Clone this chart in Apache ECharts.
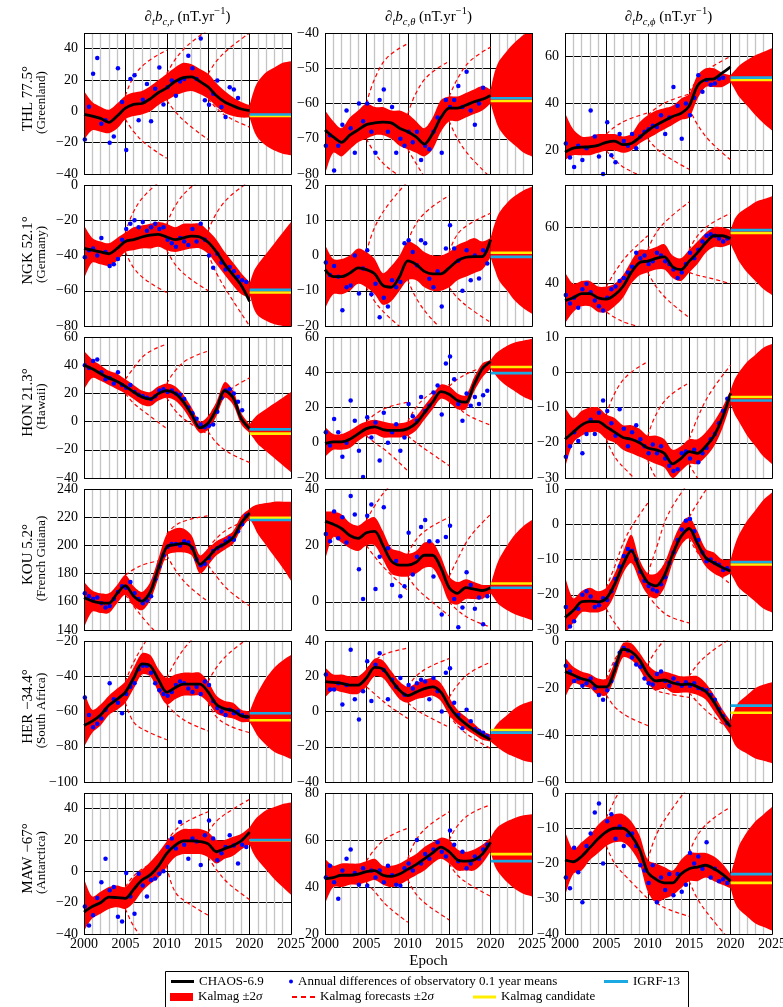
<!DOCTYPE html>
<html><head><meta charset="utf-8">
<script src="https://cdn.jsdelivr.net/npm/echarts@6/dist/echarts.min.js"></script>
<style>html,body{margin:0;padding:0;background:#fff}#c{width:783px;height:1007px}</style>
</head><body><div id="c"></div>
<script>
// ---------- shared sampling epochs ----------
const years = [2000,2001,2002,2003,2004,2005,2006,2007,2008,2009,2010,2011,2012,2013,2014,2015,2016,2017,2018,2019,2020];
const coneYears = [2020,2020.5,2021,2022,2023,2024,2025];
const obsYears = [2000.1,2000.6,2001.1,2001.6,2002.1,2002.6,2003.1,2003.6,2004.1,2004.6,2005.1,2005.6,2006.1,2006.6,2007.1,2007.6,2008.1,2008.6,2009.1,2009.6,2010.1,2010.6,2011.1,2011.6,2012.1,2012.6,2013.1,2013.6,2014.1,2014.6,2015.1,2015.6,2016.1,2016.6,2017.1,2017.6,2018.1,2018.6,2019.1,2019.6];
const fcYears = [[2005,2006,2007.5,2010],[2010,2011,2012.5,2015],[2015,2016,2017.5,2020]];
const xTicks = [2000,2005,2010,2015,2020,2025];

// ---------- THL ----------
const thl_r_chaos = [-2,-3,-4.5,-7,-3,2,4.5,5,8,12,15,19,21.5,22,19,15.5,10,6,3.5,1.5,0.5];
const thl_r_lo = [-18,-12,-13,-14,-11,-5,-3,-2,0,4,7,10,12,13,11,8,3,-1,-3,-4,-4];
const thl_r_hi = [13,6,3,1,5,10,12,13,16,20,24,28,31,30,27,24,18,13,9,6,4];
const thl_r_cone = [[-4,-12,-17,-22,-25,-27,-28],[4,13,19,25,28,31,32]];
const thl_r_obs = [-18,3,24,34,-8,-5.7,-20,-16,27.5,6,-24.7,20.7,23,-5.7,7.4,17.5,-6.3,14.4,28,4.4,15.4,19.7,10,19,20.7,35.5,27.5,20.7,46.5,7,4.2,11.2,19.7,2.7,-3.6,15.4,14,8.5,null,null];
const thl_r_fc = [[10,22,31,39],[-5,-13,-21,-30],[24,33,42,52],[7,0,-8,-18],[24,32,40,50],[8,2,-4,-10]];
const thl_r_ref = [-2,-3];

const thl_t_chaos = [-67.5,-69.5,-71,-69,-67.5,-66,-65.5,-65.3,-65.5,-67,-68,-69.5,-71.5,-68.5,-64,-61.3,-61.3,-60.5,-59.5,-58.8,-57.7];
const thl_t_lo = [-80,-74,-75,-73,-71,-70,-69,-69,-70,-72,-73,-74,-75,-73,-68,-65,-65,-64,-63,-62,-60];
const thl_t_hi = [-62,-65,-67,-64,-62,-60,-61,-61,-62,-62,-63,-65,-67,-64,-59,-58,-58,-57,-56,-55,-56];
const thl_t_cone = [[-60,-64,-67,-70,-72,-74,-75],[-56,-51,-48,-45,-42.5,-40.5,-39]];
const thl_t_obs = [-72,-69,-79,-72,-66,-62,-67,-74,-60,-65,-60,-68,-74,-59,-56,-68,-61,-74,-70,-72,-68,-71,-68,-76,-72,-73,-68,-64,-74,-59,-61,-59,-55,-61,-51,-62,-66,-60,-55.5,null];
const thl_t_fc = [[-60,-53,-47,-43],[-70,-74,-78,-82],[-63,-57,-52,-48],[-73,-77,-82,-86],[-58,-53,-48,-44],[-65,-70,-75,-81]];
const thl_t_ref = [-58.5,-59.3];

const thl_p_chaos = [19.3,21,21.4,21.6,22.2,23.5,24,22.5,23,25.5,28.5,30.8,32.7,34.5,35.8,39,47.5,50.2,50.5,53,55.6];
const thl_p_lo = [16,18,18,18,19,20,20,19,20,23,25,27,29,31,33,34,42,47,47,47,49];
const thl_p_hi = [36,29,26,26,27,27,27,26,27,32,35,37,38,39,42,44,52,55,55,53,52];
const thl_p_cone = [[49,46,43,39,35,31.5,28.5],[52,54,56,58.5,60.5,62,63.5]];
const thl_p_obs = [23,17,13,22,16,21,37,26,17.5,10,32,18,15,27,24,22,27,21,26,28,29,30.5,30,35,27,34,47,39,25,40,35,42.5,52,45,50,48,48.5,50.5,51,null];
const thl_p_fc = [[27,30,33,36],[20,16,12,8],[35,38,41,44],[25,21,17,12],[45,50,55,60],[38,31,24,16]];
const thl_p_ref = [51,50];

// ---------- NGK ----------
const ngk_r_chaos = [-36,-37,-38,-39,-36,-32,-31,-29.5,-28.5,-28,-29.5,-31,-30,-29,-29.5,-32.5,-38,-45,-51,-57,-66];
const ngk_r_lo = [-53,-44,-45,-46,-43,-38,-37,-36,-36,-35,-37,-38,-37,-36,-36,-39,-45,-51,-57,-62,-64];
const ngk_r_hi = [-23,-30,-32,-33,-30,-27,-24,-23,-22,-21,-22,-24,-22,-22,-22,-26,-31,-38,-44,-50,-55];
const ngk_r_cone = [[-62,-70,-74,-77,-79,-80,-81],[-56,-49,-45,-39,-33,-27,-21]];
const ngk_r_obs = [-41,-37,-36,-40,-30,-38,-46,-45,-42,-31,-25,-22,-20,-24,-21,-26,-24,-22,-25,-24,-31,-33,-35,-30,-32,-34,-25,-32,-22,-31,-40,-47,-39,-44,-48,-46.5,-49,-52,-54,-55];
const ngk_r_fc = [[-27,-15,-5,5],[-38,-47,-54,-61],[-22,-12,-3,6],[-37,-45,-52,-60],[-26,-16,-7,2],[-39,-50,-62,-80]];
const ngk_r_ref = [-59.5,-61];

const ngk_t_chaos = [-4,-6,-6,-5,-3.5,-4,-5.2,-8.5,-9,-6,-1.5,-2.5,-4.5,-5.2,-5.2,-3.5,-1.5,-0.5,-0.3,-0.3,4.5];
const ngk_t_lo = [-15,-11,-11,-10,-8,-9,-11,-14,-13,-10,-7,-7,-9,-10,-10,-9,-7,-6,-5,-4,-0.5];
const ngk_t_hi = [3,-1,-1,0,2,1,-1,-5,-3,0,4,3,1,0,0,1,3,4,5,4,5];
const ngk_t_cone = [[-0.5,-4,-7,-10,-13,-15,-16.5],[5,9,12,15,17,18.5,19.5]];
const ngk_t_obs = [-2,-5.5,-3,-6,-15.5,-9,-8.5,0,-10.8,-3.7,1.5,-11,-8,-17.5,-12,-14.5,-7,-9,-7.5,3.5,4.3,1,-2.8,4.3,3.5,-6.6,-9,-4.5,-14.5,2,8.6,2,-1.5,-10,1.5,-7,0,-6.5,1.5,-2.3];
const ngk_t_fc = [[1,8,14,21],[-9,-13,-17,-22],[4,9,13,17],[-7,-12,-17,-23],[1,6,9,12],[-9,-12,-15,-19]];
const ngk_t_ref = [-0.4,0.8];

const ngk_p_chaos = [34,35,36.5,36.5,35,34.5,36,39,44,47.5,48,49,49.5,46,45,48,51,54.5,57,57,56];
const ngk_p_lo = [26,30,32,32,30,30,32,35,40,43,44,45,45,42,41,44,47,51,53,53,54];
const ngk_p_hi = [44,40,41,41,39,39,40,43,48,52,52,53,54,50,49,52,55,58,60,60,59];
const ngk_p_cone = [[54,51,48,44,41,38,36],[59,63,65,67,69,70,71]];
const ngk_p_obs = [36,33,35,31.5,38,40,37,34,32,30.5,35,38,39,41,42,44,46,51,49,50,47,48,51,50,48,47,45,42,44,47,51,49,52,55,57,57.5,57,56,55,56];
const ngk_p_fc = [[39,44,50,57],[30,28,26,24],[52,58,63,69],[44,39,34,28],[52,57,61,65],[44,43,42,40]];
const ngk_p_ref = [59,58];

// ---------- HON ----------
const hon_r_chaos = [40,37.5,34,31,28.5,25,21,17.5,16,20,22,20,14,5,-4.5,-1,9,22,17,2,-5];
const hon_r_lo = [23,31,29,26,23,20,16,12,11,15,17,15,9,0,-8,-6,4,17,12,-2,-8];
const hon_r_hi = [50,44,40,36,34,30,26,22,21,25,27,25,19,10,0,4,14,28,22,6,-2];
const hon_r_cone = [[-8,-12,-16,-21,-26,-31,-36],[-2,2,5,9,13,17,21]];
const hon_r_obs = [40,38,43,44,35,30,31,27,35,26,24,26,21,19,18,17,16,18,22,23,21,22,20,19,16,10,6,2,-2,-4,-3,-2,7,17,22,23,20,14,8,null];
const hon_r_fc = [[30,38,48,55],[20,13,6,-5],[27,36,44,50],[17,8,0,-9],[3,12,22,31],[-7,-15,-22,-29]];
const hon_r_ref = [-5.5,-8.5];

const hon_t_chaos = [-0.5,0.5,0.5,2,5,8,9,7.5,7,7,8,11,17,23,29,27.5,24,23,33,42,46];
const hon_t_lo = [-8,-4,-4,-3,1,4,5,3,3,3,4,7,13,19,25,23,19,19,29,37,42];
const hon_t_hi = [9,5,5,7,10,12,13,12,11,11,12,15,21,27,33,32,28,27,37,45,47];
const hon_t_cone = [[42,39,36,32,29,26,24],[47,50,52,55,57,58,59]];
const hon_t_obs = [6,-1.5,13.5,6,-8,0,24,12.5,-4.5,-19.5,14.5,3,11.5,-10,17,0,6,10.5,-4.5,3,22,15,12.5,26,18,21,28.5,32.5,16,45,49,36,22,12.5,28,21,26,22,27,29.5];
const hon_t_fc = [[12,16,20,23],[4,0,-5,-16],[12,20,27,33],[4,0,-5,-13],[32,36,40,44],[23,20,15,10]];
const hon_t_ref = [39.5,43];

const hon_p_chaos = [-19,-17,-15,-14,-14,-15.5,-17,-18.5,-19,-20,-21.5,-22,-23,-26,-24.5,-22.5,-23,-21,-18,-13,-6];
const hon_p_lo = [-27,-20,-18,-17,-17,-19,-20,-22,-23,-24,-25,-26,-27,-30,-28,-26,-26,-24,-21,-16,-9];
const hon_p_hi = [-10,-13,-11,-10,-10,-12,-13,-15,-15,-16,-18,-18,-19,-22,-21,-19,-19,-17,-14,-10,-5];
const hon_p_cone = [[-9,-12,-14,-18,-21,-24,-26],[-5,-2,0,3,5,7,8]];
const hon_p_obs = [-24,-21,-17,-19.5,-23,-17.5,-13.5,-17.5,-11.5,-8,-11,-14.5,-18,-10.5,-16,-21,-17,-15,-19,-21,-23,-20.5,-23,-21,-24.5,-26.5,-28,-27.5,-23,-22.5,-24.5,-22,-25.5,-23,-21.5,-19,-17.5,-14.5,-11,-7.5];
const hon_p_fc = [[-12,-6,-1,3],[-19,-24,-28,-34],[-18,-12,-7,-3],[-25,-30,-34,-38],[-19,-13,-6,2],[-26,-30,-34,-38]];
const hon_p_ref = [-8,-7];

// ---------- KOU ----------
const kou_r_chaos = [163,160.5,159.3,159,166,171.5,164,160.5,167,184,199,200.5,201.5,199,186.6,191.5,198,201,205.5,216,223];
const kou_r_lo = [142,153,152,152,159,165,157,154,161,177,193,195,195,193,180,186,193,197,201,212,219];
const kou_r_hi = [174,168,166,166,172,179,171,167,174,191,208,212,212,207,193,198,203,206,210,221,226];
const kou_r_cone = [[219,214,208,200,192,184,175],[226,228,229,230,231,231,231]];
const kou_r_obs = [166,164,162,163,159,156,157,162,167,171,170,174,166,162,159,161,164,176,185,193,199,201,201,200,203,202,198,190,186,187,191,196,198,200,203,205,204,210,215,221];
const kou_r_fc = [[179,183,187,190],[165,157,146,130],[208,214,218,221],[193,183,172,160],[198,205,212,218],[186,178,168,157]];
const kou_r_ref = [218,219.5];

const kou_t_chaos = [28.5,27.5,26,23.5,22.5,24.5,25,20,14.5,13,13,14,16.5,16.5,12,5,3,5,4.5,4,5];
const kou_t_lo = [15,23,21,19,18,20,20,15,10,9,9,10,12,12,7,0,-1,1,1,1,3];
const kou_t_hi = [32,32,31,28,27,29,30,25,19,18,17,18,21,21,16,9,7,8,7,6,6];
const kou_t_cone = [[3,1,-1,-3,-4.5,-5.5,-6.5],[6,11,15,20,24,27,29]];
const kou_t_obs = [24,21.5,32,22.5,30,21,37.5,31,11.5,1,30.5,34.5,4.5,16,33.5,19,6,14.5,2,5.5,24.5,9.7,16,26.5,29,21.5,9,21.5,-4.5,23,27,1,-9,-2,10.5,6,-2.5,1.5,-8,2];
const kou_t_fc = [[29,34,40,46],[20,16,11,4],[17,22,26,30],[9,5,1,-5],[9,15,23,31],[0,-3,-6,-9]];
const kou_t_ref = [5,6.5];

const kou_p_chaos = [-26.5,-24.5,-22,-21.8,-22,-21,-17,-11.5,-7.5,-12.5,-16.5,-17.5,-14.5,-8.5,-3.5,-1.2,-5.5,-9.5,-11,-12.3,-13.3];
const kou_p_lo = [-31,-28,-25,-25,-25,-24,-20,-14,-11,-16,-20,-21,-18,-11,-6,-4,-8,-12,-14,-15,-14];
const kou_p_hi = [-15,-21,-19,-18,-19,-18,-14,-8,-3,-10,-14,-14,-11,-5,0,2,-2,-7,-8,-10,-10];
const kou_p_cone = [[-14,-16,-18,-20,-22,-24,-25],[-10,-6,-3,1,4,7,9]];
const kou_p_obs = [-23.5,-29,-27.5,-24,-20,-19,-20.5,-23.5,-23,-21,-21.5,-19,-15.5,-12,-9,-7,-7.5,-10,-13.5,-16,-17.5,-18.5,-19,-17,-15,-11,-8,-4.5,-1.5,1,1.5,-2,-4.5,-8,-10.5,-10,-11,-11.5,-13,-12.5];
const kou_p_fc = [[-18,-12,-3,6],[-24,-28,-32,-36],[-14,-7,3,12],[-20,-23,-26,-28],[2,6,11,16],[-4,-8,-12,-17]];
const kou_p_ref = [-10.7,-11.4];

// ---------- HER ----------
const her_r_chaos = [-68,-65.5,-62,-56.5,-53,-49,-41,-33,-34,-42,-49,-46.5,-44.5,-44.5,-44.5,-49,-56,-58.5,-59.5,-62.5,-63];
const her_r_lo = [-80,-72,-68,-62,-59,-55,-47,-39,-40,-49,-56,-53,-51,-51,-51,-55,-61,-63,-64,-66,-66];
const her_r_hi = [-49,-59,-56,-51,-47,-43,-35,-27,-28,-36,-41,-39,-38,-38,-38,-43,-51,-54,-55,-59,-60];
const her_r_cone = [[-66,-70,-74,-79,-83,-85,-87],[-60,-54,-49,-41,-35,-31,-28]];
const her_r_obs = [-52,-62,-69,-67,-64,-59,-44,-53,-55,-61,-50,-46,-44,-36,-34,-34,-38,-44,-48,-50,-51,-49,-45,-43,-44,-47,-49,-46,-50,-43,-45,-54,-58,-60,-62,-59,-61,-60,-62,-63];
const her_r_fc = [[-43,-32,-20,-5],[-55,-66,-71,-76],[-41,-32,-22,-10],[-56,-61,-66,-71],[-43,-35,-27,-18],[-55,-63,-68,-72]];
const her_r_ref = [-61,-65];

const her_t_chaos = [17,16.5,16,15,15,19,25,24,18,12,9,11,13,14,11,3,-3,-7,-10.5,-13.5,-16];
const her_t_lo = [8,12,11,10,10,14,20,19,13,7,5,7,8,9,6,-2,-7,-10,-13,-16,-17];
const her_t_hi = [25,21,21,20,20,24,30,29,23,17,14,16,18,19,16,8,1,-3,-7,-11,-13];
const her_t_cone = [[-17,-19,-21,-24,-26,-28,-29],[-13,-9,-6,-2,2,4.5,6]];
const her_t_obs = [21,12.5,12.5,16,4,15,35,7,-4.5,11.5,28.5,6,26.5,33,23.5,7,18,14,19,9.5,15,13,16,18,17,7,19,11.5,0,22,24.5,5,-2,-9.5,1,-5.5,-10,-11,-12,-14];
const her_t_fc = [[24,29,33,36],[14,10,4,-4],[14,20,25,30],[5,1,-3,-9],[8,15,22,28],[-2,-8,-14,-21]];
const her_t_ref = [-12,-10.5];

const her_p_chaos = [-13,-14.5,-16,-17,-19.5,-19.5,-12.5,-3.5,-4.5,-8,-14,-17,-16.6,-17.8,-18.6,-18.3,-19.5,-21.5,-26,-32,-36.5];
const her_p_lo = [-24,-18,-19,-20,-23,-23,-16,-7,-8,-12,-18,-21,-20,-22,-22,-22,-23,-25,-30,-35,-40];
const her_p_hi = [-7,-11,-13,-14,-16,-16,-9,-1,-1,-5,-10,-13,-13,-14,-15,-15,-15,-18,-23,-29,-34];
const her_p_cone = [[-40,-44,-46,-48,-50,-51,-52],[-34,-29,-26,-23,-20,-18.5,-17.5]];
const her_p_obs = [-10.5,-13,-17,-16,-19,-18,-16,-20,-23,-25,-21,-17,-10,-5,-3,-4,-7,-10,-11,-16,-18,-18.5,-14,-13,-17,-19,-16,-18,-19,-17.5,-19,-18,-20,-20.5,-21,-23,-25,-29,-32,-35];
const her_p_fc = [[-16,-8,0,8],[-23,-28,-32,-36],[-10,-4,2,8],[-18,-21,-22.5,-24],[-15,-10,-5,1],[-22,-26,-31,-38]];
const her_p_ref = [-27.5,-30.5];

// ---------- MAW ----------
const maw_r_chaos = [-26,-22.5,-20,-16.5,-16.8,-17.2,-11.5,-5.5,-2.3,3.5,11.5,16.5,19.5,19.5,19,17.5,12.5,14.5,16.5,19.5,25];
const maw_r_lo = [-38,-30,-27,-24,-23,-24,-20,-13,-8,-4,3,9,11,11,11,9,5,8,10,14,17];
const maw_r_hi = [-5,-16,-13,-10,-9,-10,-4,1,6,12,19,24,27,27,27,25,20,20,22,24,28];
const maw_r_cone = [[17,11,7,1,-5,-10,-15],[28,32,35,39,41,43,44]];
const maw_r_obs = [-22.5,-34.5,-28,-17,-7,8,-12,-10,-29,-32,-1,-16,-27,-1.5,-9,-16,-5.5,-4.5,-1.5,0,15.5,21,14.5,31.5,17,8,21,19,4,23,32.5,21,7,11.5,15.5,23,16.5,5,17,15.5];
const maw_r_fc = [[-10,-3,3,10],[-24,-35,-45,-55],[19,26,32,38],[3,-13,-20,-28],[25,32,38,46],[9,1,-8,-18]];
const maw_r_ref = [20,19.8];

const maw_t_chaos = [43.5,44,45,45,45.5,46.5,47,45,44.5,45.5,47.5,49.5,52,54.5,57,55,51.5,51,51.5,54,59];
const maw_t_lo = [33,40,40,41,41,42,43,41,40,41,43,45,47,50,52,50,47,47,47,50,55];
const maw_t_hi = [52,49,50,50,50,51,52,49,49,50,52,54,57,59,61,60,56,55,56,58,61];
const maw_t_cone = [[55,49,46,42,39,37,36],[61,64,66,68,69.5,70.5,71]];
const maw_t_obs = [44,49,42,35,47,52,56,46,41,48,40.5,47,44,47,42,49,45,41,40.5,48,50,47,60,50,54,52,56,59,55,53,64,58,51,55,48,50,53,52,56,58];
const maw_t_fc = [[51,56,61,65],[42,38,32,25],[52,60,66,72],[43,37,32,26],[60,66,71,75],[50,45,41,36]];
const maw_t_ref = [51,54];

const maw_p_chaos = [-19,-19.5,-18,-15.5,-13,-11,-10,-10,-12,-16,-22.5,-24.5,-25.5,-25.5,-23,-21.5,-21,-20.5,-21.5,-23,-25];
const maw_p_lo = [-29,-23,-22,-19,-17,-15,-14,-14,-16,-20,-28,-31,-30,-29,-27,-25,-25,-24,-25,-26,-27];
const maw_p_hi = [-11,-16,-14,-12,-9,-7,-6,-6,-8,-12,-19,-20,-21,-22,-19,-17,-17,-17,-18,-20,-23];
const maw_p_cone = [[-27,-31,-33,-35,-37,-38,-39],[-23,-19,-15,-11,-8,-6,-4]];
const maw_p_obs = [-24,-27,-15.5,-22.5,-31,-15,-11.5,-5.5,-3,-20,-8,-6,-13,-9.5,-15,-12,-11.5,-15,-20.5,-22,-25.5,-20.5,-31,-24,-27.5,-23,-29,-23,-28,-26,-17,-20,-18,-21.5,-14,-24,-21.5,-25,-24.5,-25.5];
const maw_p_fc = [[-7,-2,4,10],[-15,-20,-24,-30],[-19,-12,-6,2],[-28,-31,-33,-35],[-17,-12,-8,-4],[-25,-30,-35,-42]];
const maw_p_ref = [-23,-25.5];

// ---------- axis ranges & tick labels ----------
const yRanges = [[-40,50],[-80,-40],[10,70],[-80,0],[-20,20],[25,75],[-40,60],[-20,60],[-30,10],[140,240],[-10,40],[-30,10],[-100,-20],[-40,40],[-60,0],[-40,50],[20,80],[-40,0]];
const yTicks = [[-40,-20,0,20,40],[-80,-70,-60,-50,-40],[20,40,60],[-80,-60,-40,-20,0],[-20,-10,0,10,20],[40,60],[-40,-20,0,20,40,60],[-20,0,20,40,60],[-30,-20,-10,0,10],[140,160,180,200,220,240],[0,20,40],[-30,-20,-10,0,10],[-100,-80,-60,-40,-20],[-40,-20,0,20,40],[-60,-40,-20,0],[-40,-20,0,20,40],[20,40,60,80],[-40,-30,-20,-10,0]];
const stations = ['THL 77.5°','NGK 52.1°','HON 21.3°','KOU 5.2°','HER \u221234.4°','MAW \u221267°'];
const regions = ['(Greenland)','(Germany)','(Hawaii)','(French Guiana)','(South Africa)','(Antarctica)'];

const panelTable = [
  [thl_r_chaos,thl_r_lo,thl_r_hi,thl_r_cone,thl_r_obs,thl_r_fc,thl_r_ref],
  [thl_t_chaos,thl_t_lo,thl_t_hi,thl_t_cone,thl_t_obs,thl_t_fc,thl_t_ref],
  [thl_p_chaos,thl_p_lo,thl_p_hi,thl_p_cone,thl_p_obs,thl_p_fc,thl_p_ref],
  [ngk_r_chaos,ngk_r_lo,ngk_r_hi,ngk_r_cone,ngk_r_obs,ngk_r_fc,ngk_r_ref],
  [ngk_t_chaos,ngk_t_lo,ngk_t_hi,ngk_t_cone,ngk_t_obs,ngk_t_fc,ngk_t_ref],
  [ngk_p_chaos,ngk_p_lo,ngk_p_hi,ngk_p_cone,ngk_p_obs,ngk_p_fc,ngk_p_ref],
  [hon_r_chaos,hon_r_lo,hon_r_hi,hon_r_cone,hon_r_obs,hon_r_fc,hon_r_ref],
  [hon_t_chaos,hon_t_lo,hon_t_hi,hon_t_cone,hon_t_obs,hon_t_fc,hon_t_ref],
  [hon_p_chaos,hon_p_lo,hon_p_hi,hon_p_cone,hon_p_obs,hon_p_fc,hon_p_ref],
  [kou_r_chaos,kou_r_lo,kou_r_hi,kou_r_cone,kou_r_obs,kou_r_fc,kou_r_ref],
  [kou_t_chaos,kou_t_lo,kou_t_hi,kou_t_cone,kou_t_obs,kou_t_fc,kou_t_ref],
  [kou_p_chaos,kou_p_lo,kou_p_hi,kou_p_cone,kou_p_obs,kou_p_fc,kou_p_ref],
  [her_r_chaos,her_r_lo,her_r_hi,her_r_cone,her_r_obs,her_r_fc,her_r_ref],
  [her_t_chaos,her_t_lo,her_t_hi,her_t_cone,her_t_obs,her_t_fc,her_t_ref],
  [her_p_chaos,her_p_lo,her_p_hi,her_p_cone,her_p_obs,her_p_fc,her_p_ref],
  [maw_r_chaos,maw_r_lo,maw_r_hi,maw_r_cone,maw_r_obs,maw_r_fc,maw_r_ref],
  [maw_t_chaos,maw_t_lo,maw_t_hi,maw_t_cone,maw_t_obs,maw_t_fc,maw_t_ref],
  [maw_p_chaos,maw_p_lo,maw_p_hi,maw_p_cone,maw_p_obs,maw_p_fc,maw_p_ref]
];

// ---------- layout / style ----------
const colLeft = [84,325,565], rowTop = [33,185,337,489,641,793], W = 207, H = 141;
const FONT = "'Liberation Serif','DejaVu Serif',serif";
const RED = '#ff0000', BLUE = '#0000ff', CYAN = '#1aa9e2', YEL = '#ffee00';
const N_CHAOS = 'CHAOS-6.9', N_OBS = 'Annual differences of observatory 0.1 year means', N_IGRF = 'IGRF-13',
      N_KAL = 'Kalmag ±2σ', N_FC = 'Kalmag forecasts ±2σ', N_CAND = 'Kalmag candidate';
const fmt = v => (v < 0 ? '\u2212' + (-v) : String(v));
const xy = (xs, ys) => xs.map((x, i) => [x, ys[i]]);
const rows3 = (xs, lo, hi) => xs.map((x, i) => [x, lo[i], hi[i]]);

// band polygon drawn through the axis scales (api.coord); corners doubled so only the edges are smoothed
function bandRender(params, api) {
  if (params.dataIndexInside !== 0) return null;
  const n = params.dataInsideLength;
  const up = [], dn = [];
  for (let i = 0; i < n; i++) {
    up.push(api.coord([api.value(0, i), api.value(2, i)]));
    dn.push(api.coord([api.value(0, i), api.value(1, i)]));
  }
  const pts = [up[0]].concat(up, [up[n - 1], dn[n - 1]], dn.slice().reverse(), [dn[0]]);
  const cs = params.coordSys;
  return {type: 'polygon', shape: {points: pts, smooth: 0.3},
    style: {fill: RED, stroke: null},
    clipPath: {type: 'rect', shape: {x: cs.x, y: cs.y, width: cs.width, height: cs.height}}};
}

const grids = [], xAxes = [], yAxes = [], series = [], graphics = [];
for (let k = 0; k < 18; k++) {
  const r = Math.floor(k / 3), c = k % 3;
  const [chaos, lo, hi, cone, obs, fc, ref] = panelTable[k];
  grids.push({left: colLeft[c], top: rowTop[r], width: W, height: H, show: false, containLabel: false, outerBoundsMode: 'none'});
  xAxes.push({type: 'value', gridIndex: k, min: 2000, max: 2025, interval: 5,
    axisLine: {show: false}, axisTick: {show: false},
    axisLabel: {show: r === 5, fontFamily: FONT, fontSize: 14, color: '#000', margin: 3, customValues: xTicks, formatter: v => String(v)},
    splitLine: {show: true, lineStyle: {color: '#000', width: 1}},
    minorTick: {show: false, splitNumber: 5},
    minorSplitLine: {show: true, lineStyle: {color: '#c4c4c4', width: 1.3}}});
  yAxes.push({type: 'value', gridIndex: k, min: yRanges[k][0], max: yRanges[k][1],
    axisLine: {show: false}, axisTick: {show: false, customValues: yTicks[k]},
    axisLabel: {customValues: yTicks[k], formatter: fmt, fontFamily: FONT, fontSize: 14, color: '#000', margin: 6},
    splitLine: {show: true, lineStyle: {color: '#000', width: 1}}});
  const ax = {xAxisIndex: k, yAxisIndex: k, silent: true};
  // Kalmag band (2000-2020) and forecast cone (2020-2025)
  series.push({type: 'custom', name: N_KAL, ...ax, dimensions: ['x', 'lo', 'hi'], encode: {x: 0, y: [1, 2]},
    data: rows3(years, lo, hi), renderItem: bandRender, color: RED, itemStyle: {color: RED}, z: 1});
  series.push({type: 'custom', name: N_KAL, ...ax, dimensions: ['x', 'lo', 'hi'], encode: {x: 0, y: [1, 2]},
    data: rows3(coneYears, cone[0], cone[1]), renderItem: bandRender, color: RED, itemStyle: {color: RED}, z: 1});
  // forecasts
  fc.forEach((arr, j) => series.push({type: 'line', name: N_FC, ...ax, data: xy(fcYears[j >> 1], arr), symbol: 'none', smooth: 0.4,
    color: RED, lineStyle: {color: RED, width: 1.2, type: [4, 3]}, z: 2}));
  // observatory data
  series.push({type: 'scatter', name: N_OBS, ...ax, data: xy(obsYears, obs), symbolSize: 4.5, color: BLUE,
    itemStyle: {color: BLUE, opacity: 1}, z: 3});
  // CHAOS
  series.push({type: 'line', name: N_CHAOS, ...ax, data: xy(years, chaos), symbol: 'none', smooth: 0.3,
    color: '#000', lineStyle: {color: '#000', width: 2.8}, z: 4});
  // candidate + IGRF
  series.push({type: 'line', name: N_CAND, ...ax, data: [[2020, ref[1]], [2025, ref[1]]], symbol: 'none',
    color: YEL, lineStyle: {color: YEL, width: 2.6}, z: 5});
  series.push({type: 'line', name: N_IGRF, ...ax, data: [[2020, ref[0]], [2025, ref[0]]], symbol: 'none',
    color: CYAN, lineStyle: {color: CYAN, width: 2.6}, z: 5});
  // frame
  graphics.push({type: 'rect', z: 100, silent: true, shape: {x: colLeft[c] + 0.5, y: rowTop[r] + 0.5, width: W, height: H},
    style: {fill: 'none', stroke: '#000', lineWidth: 1}});
}

// column titles
const richT = {
  n: {fontFamily: FONT, fontSize: 15, lineHeight: 22, fill: '#000'},
  i: {fontFamily: FONT, fontSize: 15, fontStyle: 'italic', lineHeight: 22, fill: '#000'},
  s: {fontFamily: FONT, fontSize: 10.5, fontStyle: 'italic', lineHeight: 12, verticalAlign: 'bottom', fill: '#000'},
  p: {fontFamily: FONT, fontSize: 10.5, lineHeight: 12, verticalAlign: 'top', fill: '#000'}
};
const colTitles = ['{i|\u2202}{s|t}{i|b}{s|c,r}{n| (nT.yr}{p|\u22121}{n|)}',
                   '{i|\u2202}{s|t}{i|b}{s|c,\u03b8}{n| (nT.yr}{p|\u22121}{n|)}',
                   '{i|\u2202}{s|t}{i|b}{s|c,\u03d5}{n| (nT.yr}{p|\u22121}{n|)}'];
colTitles.forEach((t, c) => graphics.push({type: 'text', x: colLeft[c] + W / 2, y: 17, silent: true,
  style: {text: t, rich: richT, fontFamily: FONT, fontSize: 15, fill: '#000', align: 'center', verticalAlign: 'middle', textAlign: 'center', textVerticalAlign: 'middle'}}));
// row labels
stations.forEach((s, r) => {
  const mid = rowTop[r] + H / 2;
  graphics.push({type: 'text', x: 28, y: mid - 5, rotation: Math.PI / 2, silent: true,
    style: {text: s, fontFamily: FONT, fontSize: 15, fill: '#000', align: 'center', verticalAlign: 'middle', textAlign: 'center', textVerticalAlign: 'middle'}});
  graphics.push({type: 'text', x: 42, y: mid - 1, rotation: Math.PI / 2, silent: true,
    style: {text: regions[r], fontFamily: FONT, fontSize: 13, fill: '#000', align: 'center', verticalAlign: 'middle', textAlign: 'center', textVerticalAlign: 'middle'}});
});
graphics.push({type: 'text', x: 428.5, y: 961, silent: true,
  style: {text: 'Epoch', fontFamily: FONT, fontSize: 15, fill: '#000', align: 'center', verticalAlign: 'middle', textAlign: 'center', textVerticalAlign: 'middle'}});
graphics.push({type: 'rect', z: 100, silent: true, shape: {x: 165.5, y: 971.5, width: 523, height: 45},
  style: {fill: 'none', stroke: '#000', lineWidth: 1}});

const lg = (left, top, iw, ih, name, icon) => ({left, top, itemWidth: iw, itemHeight: ih, padding: 0, itemGap: 0, selectedMode: false,
  data: [{name, icon}], formatter: n => n.replace('σ', '{i|σ}'),
  itemStyle: {opacity: 1},
  textStyle: {fontFamily: FONT, fontSize: 13, color: '#000', rich: {i: {fontFamily: FONT, fontSize: 13, fontStyle: 'italic', color: '#000'}}}});

const option = {
  animation: false,
  backgroundColor: '#fff',
  grid: grids, xAxis: xAxes, yAxis: yAxes, series,
  legend: [
    lg(171, 975, 23, 3, N_CHAOS, 'rect'),
    lg(289, 975, 4, 4, N_OBS, 'circle'),
    lg(604, 975, 24, 3, N_IGRF, 'rect'),
    lg(170, 990.5, 23, 8, N_KAL, 'rect'),
    lg(292, 990.5, 23, 2, N_FC, 'path://M0,0h5v2h-5z M9,0h5v2h-5z M18,0h5v2h-5z'),
    lg(473, 990.5, 23, 3, N_CAND, 'rect')
  ],
  graphic: {elements: graphics}
};
const chart = echarts.init(document.getElementById('c'), null, {renderer: 'canvas'});
chart.setOption(option);
</script></body></html>
